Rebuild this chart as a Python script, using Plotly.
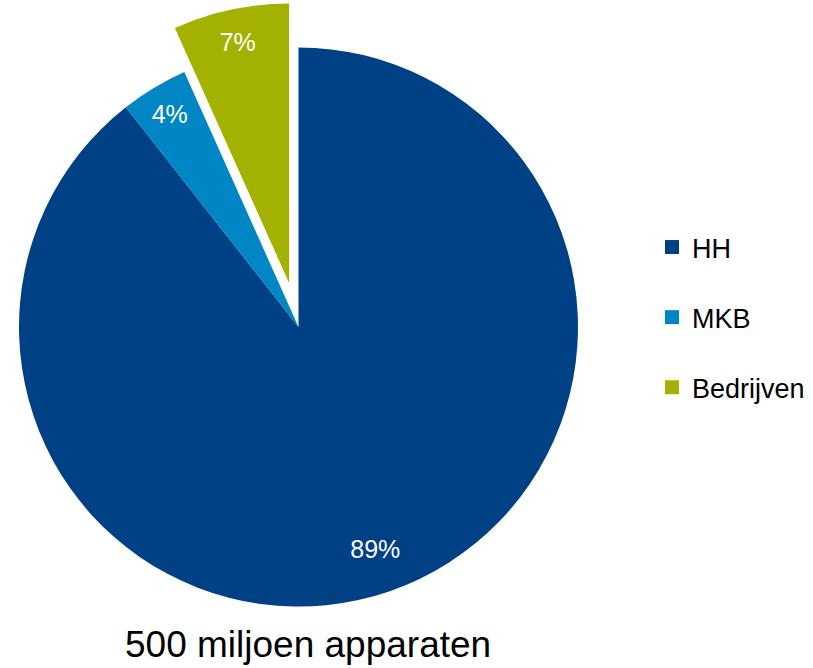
import math
import plotly.graph_objects as go

# ---- data ----
labels = ["HH", "MKB", "Bedrijven"]
values = [89.4, 3.9, 6.7]
colors = ["#004186", "#0086C5", "#A3B100"]
pulled = "Bedrijven"
title_text = "500 miljoen apparaten"

FONT = "Liberation Sans, Arial, sans-serif"
W, H = 813, 668

# pie geometry (pixels)
cx, cy, R = 298.5, 327.0, 279.5
pull_px = 45.0
# radial position of each slice label, as a fraction of the radius
label_r = {"HH": 0.84, "MKB": 0.89, "Bedrijven": 0.88}


def domain(cxp, cyp, r):
    return dict(x=[max(0, (cxp - r) / W), min(1, (cxp + r) / W)],
                y=[max(0, (H - cyp - r) / H), min(1, (H - cyp + r) / H)])


# bisector angle of the pulled slice (clockwise from 12 o'clock)
total = sum(values)
idx = labels.index(pulled)
start = sum(values[:idx]) / total * 360
mid = math.radians(start + values[idx] / total * 180)
pcx = cx + pull_px * math.sin(mid)
pcy = cy - pull_px * math.cos(mid)

transparent = "rgba(0,0,0,0)"
main_colors = [c if l != pulled else transparent for l, c in zip(labels, colors)]
pull_colors = [c if l == pulled else transparent for l, c in zip(labels, colors)]

fig = go.Figure()
common = dict(labels=labels, values=values, sort=False, direction="clockwise")
fig.add_trace(go.Pie(
    **common, marker=dict(colors=main_colors, line=dict(width=0)),
    textinfo="none", domain=domain(cx, cy, R), showlegend=False,
    hoverinfo="label+percent",
))
fig.add_trace(go.Pie(
    **common, marker=dict(colors=pull_colors, line=dict(width=0)),
    textinfo="none", domain=domain(pcx, pcy, R), showlegend=False,
    hoverinfo="skip",
))
# slice labels (text-only rings, so labels sit toward the rim)
for l in labels:
    ccx, ccy = (pcx, pcy) if l == pulled else (cx, cy)
    fig.add_trace(go.Pie(
        **common, hole=2 * label_r[l] - 1,
        marker=dict(colors=[transparent] * len(labels), line=dict(width=0)),
        texttemplate=["%{percent:.0%}" if k == l else "" for k in labels],
        textposition="inside", insidetextorientation="horizontal",
        textfont=dict(family=FONT, size=25, color="white"),
        domain=domain(ccx, ccy, R), showlegend=False, hoverinfo="skip",
    ))
# legend entries
for l, c in zip(labels, colors):
    fig.add_trace(go.Scatter(
        x=[None], y=[None], mode="markers", name=l, legendgroup=l,
        marker=dict(symbol="square", size=14, color=c),
    ))

fig.add_annotation(
    text=title_text, xref="paper", yref="paper",
    x=308 / W, y=(H - 644) / H, xanchor="center", yanchor="middle",
    showarrow=False, font=dict(family=FONT, size=37, color="black"),
)

fig.update_layout(
    width=W, height=H,
    margin=dict(l=0, r=0, t=0, b=0),
    paper_bgcolor="white", plot_bgcolor="white",
    xaxis=dict(visible=False), yaxis=dict(visible=False),
    legend=dict(
        x=652 / W, y=(H - 223) / H, xanchor="left", yanchor="top",
        font=dict(family=FONT, size=27, color="black"),
        tracegroupgap=32, bgcolor="rgba(0,0,0,0)",
    ),
    font=dict(family=FONT),
)

fig.write_html("out.html", config={"displayModeBar": False},
               post_script="document.body.style.margin='0px';")
